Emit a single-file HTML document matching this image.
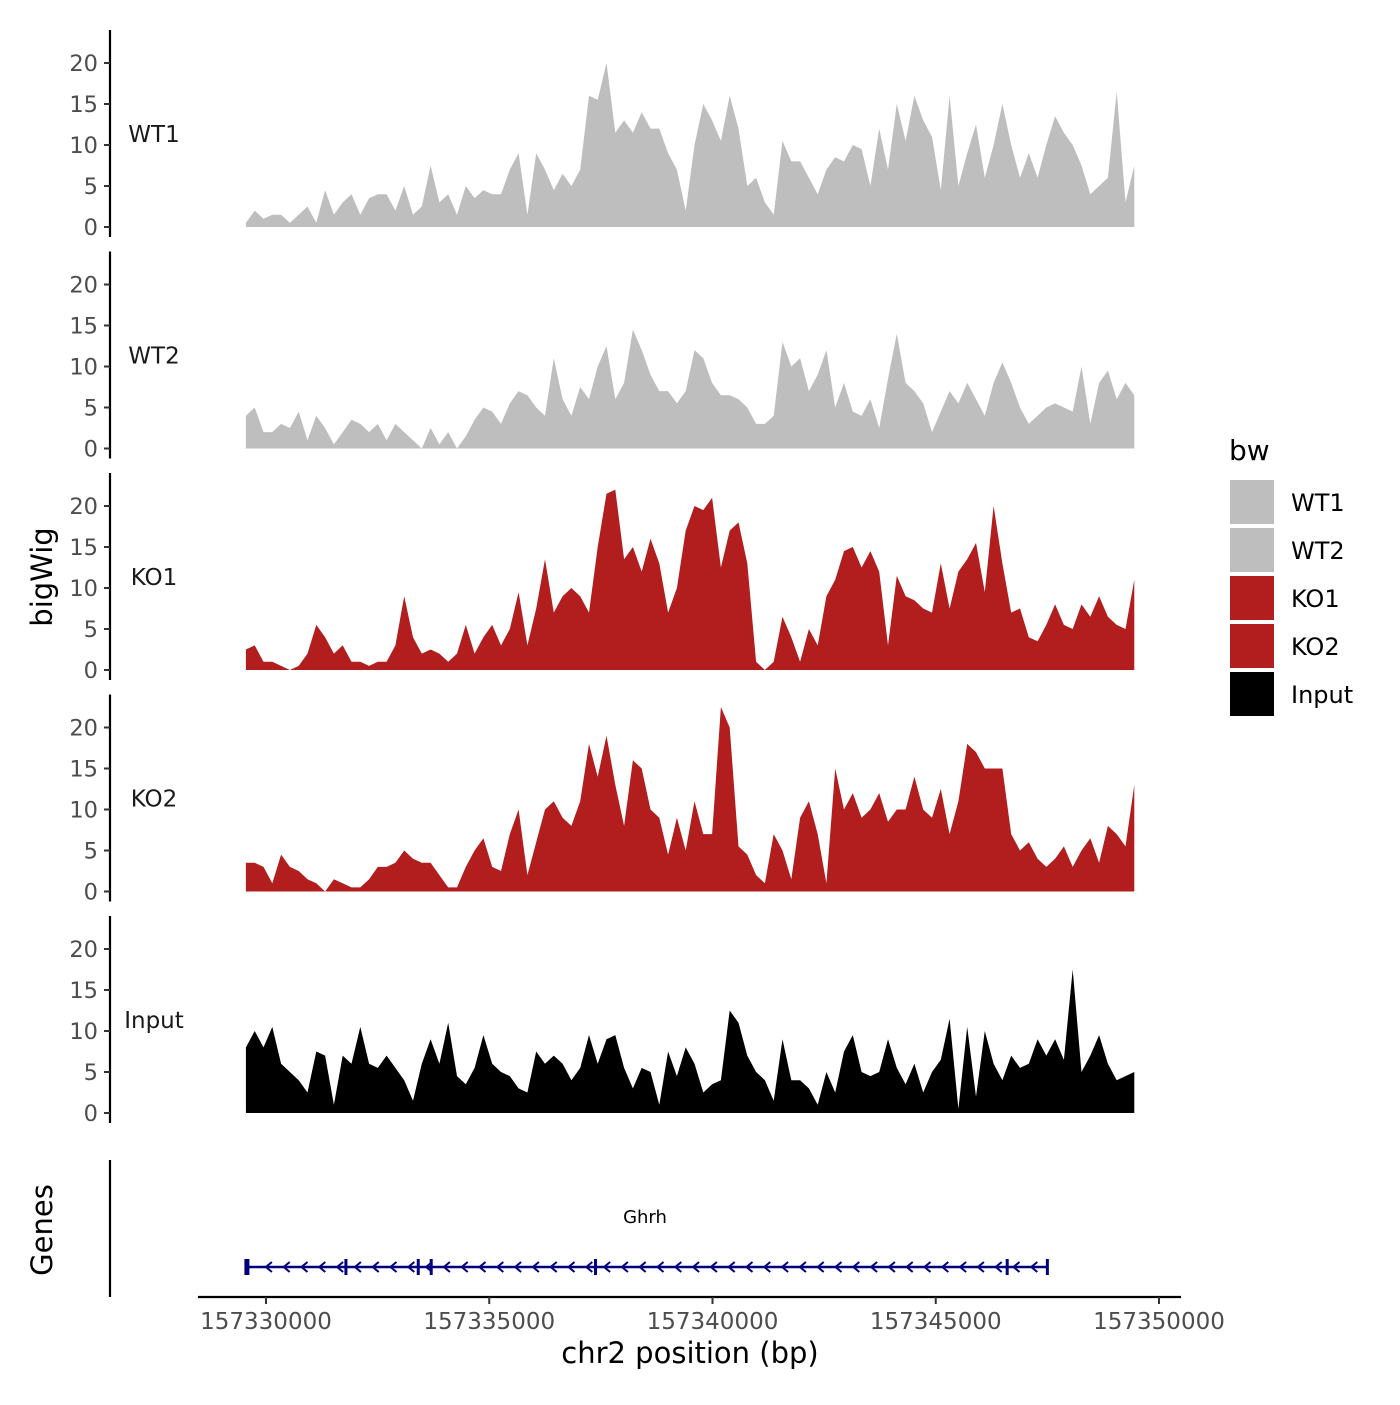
<!DOCTYPE html>
<html><head><meta charset="utf-8"><style>
body{margin:0;background:#fff;}
svg text{font-family:"DejaVu Sans","Liberation Sans",sans-serif;}
</style></head><body>
<svg id="chart" width="1400" height="1400" viewBox="0 0 1400 1400" xmlns="http://www.w3.org/2000/svg"></svg>
<script>
const trackNames = ["WT1","WT2","KO1","KO2","Input"];
const trackColors = ["#bebebe","#bebebe","#b21e1e","#b21e1e","#000000"];
const binStart = 157329550;
const binWidth = 197;
const wt1 = [0.5,2,1,1.5,1.5,0.5,1.5,2.5,0.5,4.5,1.5,3,4,1.5,3.5,4,4,2,5,1.5,2.5,7.5,3,4,1.5,5,3.5,4.5,4,4,7,9,1.5,9,7,4.5,6.5,5,7,16,15.5,20,11.5,13,11.5,14,12,12,9,7,2,10,15,13,10.5,16,12,5,6,3,1.5,10.5,8,8,6,4,7,8.5,8,10,9.5,5,12,7,15,10.5,16,13,11,4.5,16,5,9,12.5,6,10,15,10,6,9,6,10,13.5,11.5,10,7.5,4,5,6,16.5,3,7.5];
const wt2 = [4,5,2,2,3,2.5,4.5,1,4,2.5,0.5,2,3.5,3,2,3,1,3,2,1,0,2.5,0.5,2,0,1.5,3.5,5,4.5,3,5.5,7,6.5,5,4,11,6,4,7.5,6,10,12.5,6,8,14.5,12,9,7,7,5.5,7,12,11,8,6.5,6.5,6,5,3,3,4,13,10,11,7,9,12,5,8,4.5,4,6,2.5,8.5,14,8,7,5.5,2,4.5,7,5.5,8,6,4,8,10.5,8,5,3,4,5,5.5,5,4.5,10,3,8,9.5,6,8,6.5];
const ko1 = [2.5,3,1,1,0.5,0,0.5,2,5.5,4,2,3,1,1,0.5,1,1,3,9,4,2,2.5,2,1,2,5.5,2,4,5.5,3,5,9.5,3,7.5,13.5,7,9,10,9,7,15,21.5,22,13.5,15,12,16,13,7,10,17,20,19.5,21,12.5,17,18,13,1,0,1,6.5,4,1,5,3,9,11,14.5,15,12.5,14.5,12,3,11.5,9,8.5,7.5,7,13,7.5,12,13.5,15.5,9.5,20,13,7,7.5,4,3.5,5.5,8,5.5,5,8,6.5,9,6.5,5.5,5,11];
const ko2 = [3.5,3.5,3,1,4.5,3,2.5,1.5,1,0,1.5,1,0.5,0.5,1.5,3,3,3.5,5,4,3.5,3.5,2,0.5,0.5,3,5,6.5,3,2.5,7,10,2,6,10,11,9,8,11,18,14,19,13,8,16,15,10,9,4.5,9,5,11,7,7,22.5,20,5.5,4.5,2,1,7,5,1.5,9,11,7,1,15,10,12,9,10,12,8.5,10,10,14,10,9,12.5,7,11,18,17,15,15,15,7,5,6,4,3,4,5.5,3,5,6.5,3.5,8,7,5.5,13];
const input = [8,10,8,10.5,6,5,4,2.5,7.5,7,1,7,6,10.5,6,5.5,7,5.5,4,1.5,6,9,6,11,4.5,3.5,5.5,9.5,6,5,4.5,3,2.5,7.5,6,7,6,4,5.5,9.5,6,9,9.5,5.5,3,5.5,5,1,7.5,4.5,8,6,2.5,3.5,4,12.5,11,7,5,4,1.5,9,4,4,3,1,5,2.5,7.5,9.5,5,4.5,5,9,5.5,3.5,6,2.5,5,6.5,11.5,0.5,10.5,2,10,6,4,7,5.5,6,9,7,9,6.5,17.5,5,7,9.5,6,4,4.5,5];
const yTicks = [0,5,10,15,20];
const xTicks = [157330000,157335000,157340000,157345000,157350000];
const xTickLabels = ["157330000","157335000","157340000","157345000","157350000"];
const exonStarts = [157329550,157331790,157333410,157333700,157337380,157346600,157347500];
const geneStart = 157329550, geneEnd = 157347500;

const series = [wt1,wt2,ko1,ko2,input];
const NS="http://www.w3.org/2000/svg";
const svg=document.getElementById('chart');
function mk(tag,attrs,parent){const e=document.createElementNS(NS,tag);for(const k in attrs)e.setAttribute(k,attrs[k]);(parent||svg).appendChild(e);return e;}
const xScale = bp => 266 + (bp-157330000)/1000*44.65;
const panelZero = i => 227 + i*221.5;
const yScale = (v,i) => panelZero(i) - v*8.2;

series.forEach((vals,i)=>{
  const g=mk('g',{});
  
  
  const z=panelZero(i);
  let d='M'+xScale(binStart)+','+z;
  vals.forEach((v,j)=>{d+=' L'+xScale(binStart+j*binWidth).toFixed(1)+','+yScale(v,i).toFixed(1);});
  d+=' L'+xScale(binStart+(vals.length-1)*binWidth).toFixed(1)+','+z+' Z';
  const p=mk('path',{d:d,fill:trackColors[i]},g);
  
  
  const ax=mk('line',{x1:110,x2:110,y1:z-197,y2:z+10,stroke:'#000','stroke-width':2.2},g);
  
  
  yTicks.forEach(t=>{
    const y=yScale(t,i);
    mk('line',{x1:104,x2:110,y1:y,y2:y,stroke:'#333','stroke-width':2},g);
    const tx=mk('text',{x:98,y:y+8,'text-anchor':'end','font-size':22.5,fill:'#4d4d4d'},g);
    tx.textContent=t;
    
    
  });
  const lb=mk('text',{x:154,y:z-85,'text-anchor':'middle','font-size':23,fill:'#1a1a1a'},g);
  lb.textContent=trackNames[i];
  
  
});

const gg=mk('g',{});


mk('line',{x1:110,x2:110,y1:1160,y2:1297,stroke:'#000','stroke-width':2.2},gg);
const gy=1267;
mk('line',{x1:xScale(geneStart),x2:xScale(geneEnd),y1:gy,y2:gy,stroke:'#00007f','stroke-width':2.5},gg);
for(let x=xScale(geneStart)+22;x<xScale(geneEnd)-4;x+=17.8){
  mk('path',{d:`M${x+4},${gy-5} L${x-2},${gy} L${x+4},${gy+5}`,fill:'none',stroke:'#00007f','stroke-width':2},gg);
}
exonStarts.forEach((e,k)=>{
  const x=xScale(e);
  mk('rect',{x:x-1.5,y:gy-8,width:k==0?5:3,height:16,fill:'#00007f'},gg);
});
const gl=mk('text',{x:645,y:1223,'text-anchor':'middle','font-size':18,fill:'#000'},gg);
gl.textContent='Ghrh';



const xa=mk('g',{});


mk('line',{x1:198,x2:1181,y1:1297,y2:1297,stroke:'#000','stroke-width':2.2},xa);
xTicks.forEach((t,k)=>{
  const x=xScale(t);
  mk('line',{x1:x,x2:x,y1:1297,y2:1304,stroke:'#333','stroke-width':2},xa);
  const tx=mk('text',{x:x,y:1329,'text-anchor':'middle','font-size':23,fill:'#4d4d4d'},xa);
  tx.textContent=xTickLabels[k];
  
  
});
const xt=mk('text',{x:690,y:1363,'text-anchor':'middle','font-size':29,fill:'#000'});
xt.textContent='chr2 position (bp)';


const yt=mk('text',{x:0,y:0,'text-anchor':'middle','font-size':29,fill:'#000',transform:'translate(52,577) rotate(-90)'});
yt.textContent='bigWig';


const gt=mk('text',{x:0,y:0,'text-anchor':'middle','font-size':29,fill:'#000',transform:'translate(52,1230) rotate(-90)'});
gt.textContent='Genes';



const lg=mk('g',{});


const lt=mk('text',{x:1229,y:460,'font-size':28,fill:'#000'},lg);
lt.textContent='bw';
trackNames.forEach((n,k)=>{
  const y=480+k*48;
  const r=mk('rect',{x:1230,y:y,width:44,height:44,fill:trackColors[k]},lg);
  
  
  const t=mk('text',{x:1291,y:y+31,'font-size':24,fill:'#000'},lg);
  t.textContent=n;
  
  
});
</script>
</body></html>
